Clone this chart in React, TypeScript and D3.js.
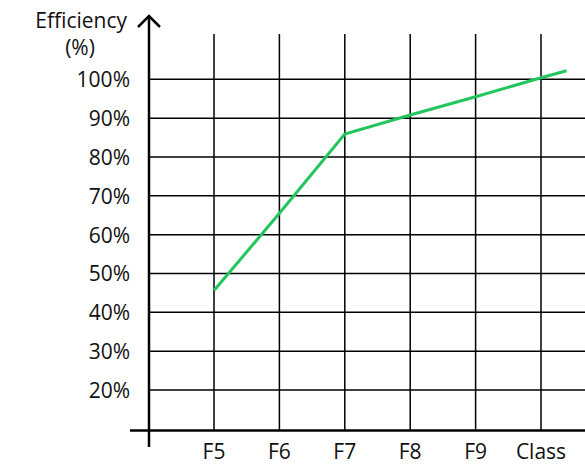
import React, { useEffect, useRef } from 'react';
import * as d3 from 'd3';

const categories = ['F5', 'F6', 'F7', 'F8', 'F9', 'Class'];
const efficiency = [45.6, 65.5, 85.9, 90.8, 95.5, 100.4];
// line runs a little past the last category
const tailIndex = [5.39];
const tailValue = [102.2];
const yTicks = [20, 30, 40, 50, 60, 70, 80, 90, 100];

const App: React.FC = () => {
  const svgRef = useRef<SVGSVGElement>(null);

  useEffect(() => {
    if (!svgRef.current) return;
    const width = 585;
    const height = 465;
    const font = "'Open Sans', sans-serif";

    const svg = d3.select(svgRef.current)
      .attr('width', width)
      .attr('height', height)
      .html('');

    const x = d3.scaleLinear().domain([0, 5]).range([214, 541]);
    const y = d3.scaleLinear().domain([20, 100]).range([390, 79.3]);

    const axisX = 149;
    const axisY = 430.5;
    const gridTop = 34;

    // horizontal grid
    svg.append('g')
      .selectAll('line')
      .data(yTicks)
      .join('line')
      .attr('x1', axisX)
      .attr('x2', width)
      .attr('y1', d => y(d))
      .attr('y2', d => y(d))
      .attr('stroke', '#000')
      .attr('stroke-width', 1.5);

    // vertical grid
    svg.append('g')
      .selectAll('line')
      .data(categories)
      .join('line')
      .attr('x1', (_, i) => x(i))
      .attr('x2', (_, i) => x(i))
      .attr('y1', gridTop)
      .attr('y2', axisY)
      .attr('stroke', '#000')
      .attr('stroke-width', 1.5);

    // y tick labels
    svg.append('g')
      .selectAll('text')
      .data(yTicks)
      .join('text')
      .attr('x', 130)
      .attr('y', d => y(d))
      .attr('text-anchor', 'end')
      .attr('dominant-baseline', 'central')
      .style('font-family', font)
      .style('font-size', '21px')
      .attr('fill', '#111')
      .text(d => `${d}%`);

    // x tick labels
    svg.append('g')
      .selectAll('text')
      .data(categories)
      .join('text')
      .attr('x', (_, i) => x(i))
      .attr('y', 459)
      .attr('text-anchor', 'middle')
      .style('font-family', font)
      .style('font-size', '21px')
      .attr('fill', '#111')
      .text(d => d);

    // axes
    svg.append('line')
      .attr('x1', 130).attr('x2', width)
      .attr('y1', axisY).attr('y2', axisY)
      .attr('stroke', '#000').attr('stroke-width', 2.5);
    svg.append('line')
      .attr('x1', axisX).attr('x2', axisX)
      .attr('y1', 16).attr('y2', 447)
      .attr('stroke', '#000').attr('stroke-width', 2.5);
    svg.append('path')
      .attr('d', `M${axisX - 11},${27} L${axisX},${16} L${axisX + 11},${27}`)
      .attr('fill', 'none')
      .attr('stroke', '#000')
      .attr('stroke-width', 2.5);

    // axis title
    svg.append('text')
      .attr('x', 127).attr('y', 28)
      .attr('text-anchor', 'end')
      .style('font-family', font)
      .style('font-size', '21px')
      .attr('fill', '#111')
      .text('Efficiency');
    svg.append('text')
      .attr('x', 80).attr('y', 55)
      .attr('text-anchor', 'middle')
      .style('font-family', font)
      .style('font-size', '21px')
      .attr('fill', '#111')
      .text('(%)');

    const points: [number, number][] = efficiency.map((v, i) => [i, v]);
    tailIndex.forEach((t, i) => points.push([t, tailValue[i]]));

    const line = d3.line<[number, number]>()
      .x(d => x(d[0]))
      .y(d => y(d[1]));

    svg.append('path')
      .datum(points)
      .attr('d', line)
      .attr('fill', 'none')
      .attr('stroke', '#22c55e')
      .attr('stroke-width', 3);
  }, []);

  return (
    <svg ref={svgRef} style={{ position: 'absolute', left: 0, top: 0, background: '#fff' }}></svg>
  );
};

export default App;
